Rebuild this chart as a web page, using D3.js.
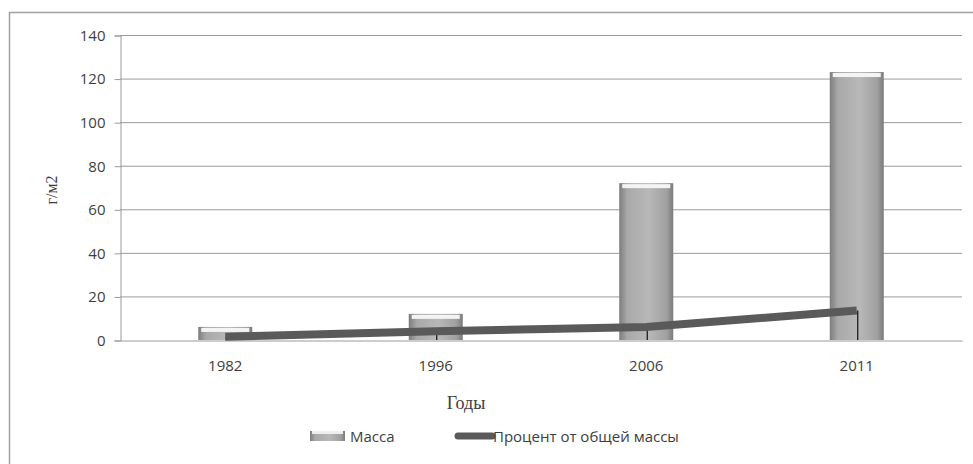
<html>
<meta charset="utf-8">
<style>
  body { margin: 0; background: #fff; }
  .tick text { font-family: "Open Sans", sans-serif; font-size: 15px; fill: #3e3e3e; }
</style>
<body>
<script src="https://d3js.org/d3.v7.min.js"></script>
<script>
  // data
  var years = ["1982", "1996", "2006", "2011"];
  var massa = [6, 12, 72, 123];
  var percent = [1.5, 4, 6, 13.5];
  var yTicks = [0, 20, 40, 60, 80, 100, 120, 140];

  var W = 973, H = 464;
  var plotLeft = 120, plotRight = 962, plotTop = 35, plotBottom = 340;

  var svg = d3.select("body").append("svg")
      .attr("width", W)
      .attr("height", H);

  // bar gradient
  var defs = svg.append("defs");
  var grad = defs.append("linearGradient").attr("id", "barGrad")
      .attr("x1", "0").attr("x2", "1").attr("y1", "0").attr("y2", "0");
  grad.append("stop").attr("offset", "0%").attr("stop-color", "#7d7d7d");
  grad.append("stop").attr("offset", "15%").attr("stop-color", "#a9a9a9");
  grad.append("stop").attr("offset", "55%").attr("stop-color", "#b8b8b8");
  grad.append("stop").attr("offset", "88%").attr("stop-color", "#a0a0a0");
  grad.append("stop").attr("offset", "100%").attr("stop-color", "#7a7a7a");

  // outer frame (only left and top edges show)
  svg.append("path")
    .attr("d", "M9.5," + H + "V12.5H" + W)
    .attr("fill", "none")
    .attr("stroke", "#a0a0a0")
    .attr("stroke-width", 1.5);

  var x = d3.scaleBand().domain(years).range([plotLeft, plotRight]);
  var y = d3.scaleLinear().domain([0, 140]).range([plotBottom, plotTop]);

  // gridlines
  svg.append("g").selectAll("line")
    .data(yTicks.slice(1))
    .enter().append("line")
    .attr("x1", plotLeft).attr("x2", plotRight)
    .attr("y1", function(d) { return y(d) + 0.5; })
    .attr("y2", function(d) { return y(d) + 0.5; })
    .attr("stroke", "#9a9a9a");

  // y axis
  var yAxis = svg.append("g")
    .attr("transform", "translate(" + (plotLeft + 0.5) + ",0.5)")
    .call(d3.axisLeft(y).tickValues(yTicks).tickSize(6).tickPadding(9));
  yAxis.select(".domain").attr("stroke", "#9a9a9a");
  yAxis.selectAll(".tick line").attr("stroke", "#9a9a9a");

  // x axis
  var xAxis = svg.append("g")
    .attr("transform", "translate(0," + (plotBottom + 0.5) + ")")
    .call(d3.axisBottom(x).tickSize(0).tickPadding(20));
  xAxis.select(".domain").attr("stroke", "#9a9a9a");

  // bars
  var bw = 54;
  var bars = svg.append("g").selectAll("g")
    .data(years)
    .enter().append("g");
  bars.append("rect")
    .attr("x", function(d) { return x(d) + x.bandwidth() / 2 - bw / 2; })
    .attr("y", function(d, i) { return y(massa[i]); })
    .attr("width", bw)
    .attr("height", function(d, i) { return plotBottom - y(massa[i]); })
    .attr("fill", "url(#barGrad)");
  bars.append("rect")
    .attr("x", function(d) { return x(d) + x.bandwidth() / 2 - bw / 2 + 3; })
    .attr("y", function(d, i) { return y(massa[i]) + 1; })
    .attr("width", bw - 6)
    .attr("height", 4)
    .attr("fill", "#f4f4f4");

  // drop lines from line to axis
  svg.append("g").selectAll("line")
    .data(years)
    .enter().append("line")
    .attr("x1", function(d) { return x(d) + x.bandwidth() / 2 + 1; })
    .attr("x2", function(d) { return x(d) + x.bandwidth() / 2 + 1; })
    .attr("y1", function(d, i) { return y(percent[i]); })
    .attr("y2", plotBottom)
    .attr("stroke", "#111")
    .attr("stroke-width", 1.2);

  // percent line
  var line = d3.line()
    .x(function(d, i) { return x(years[i]) + x.bandwidth() / 2; })
    .y(function(d) { return y(d); });
  svg.append("path")
    .datum(percent)
    .attr("d", line)
    .attr("fill", "none")
    .attr("stroke", "#5a5a5a")
    .attr("stroke-width", 8);

  // axis titles
  svg.append("text")
    .attr("transform", "translate(57,190) rotate(-90)")
    .attr("text-anchor", "middle")
    .style("font-family", "'Liberation Serif', serif")
    .style("font-size", "16px")
    .style("fill", "#3e3e3e")
    .text("г/м2");

  svg.append("text")
    .attr("x", 466).attr("y", 409)
    .attr("text-anchor", "middle")
    .style("font-family", "'Liberation Serif', serif")
    .style("font-size", "18px")
    .style("fill", "#3e3e3e")
    .text("Годы");

  // legend
  var lg = svg.append("g");
  lg.append("rect").attr("x", 310).attr("y", 431).attr("width", 35).attr("height", 10).attr("fill", "url(#barGrad)");
  lg.append("rect").attr("x", 312).attr("y", 431).attr("width", 31).attr("height", 3).attr("fill", "#eee");
  lg.append("text").attr("x", 350).attr("y", 442)
    .style("font-family", "'Open Sans', sans-serif").style("font-size", "15px").style("fill", "#3e3e3e")
    .text("Масса");
  lg.append("line").attr("x1", 458).attr("x2", 492).attr("y1", 436).attr("y2", 436)
    .attr("stroke", "#5a5a5a").attr("stroke-width", 7).attr("stroke-linecap", "round");
  lg.append("text").attr("x", 493).attr("y", 442)
    .style("font-family", "'Open Sans', sans-serif").style("font-size", "15px").style("fill", "#3e3e3e")
    .text("Процент от общей массы");
</script>
</body>
</html>
